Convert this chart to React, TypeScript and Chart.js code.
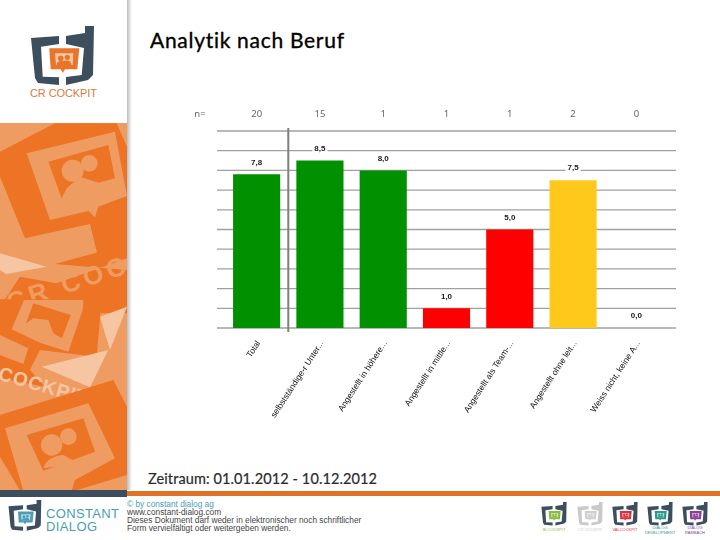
import React, { useEffect, useRef } from "react";
import { Chart, registerables } from "chart.js";

Chart.register(...registerables);

const categories = [
  "Total",
  "selbstständige-r Unter...",
  "Angestellt in höhere...",
  "Angestellt in mittle...",
  "Angestellt als Team-...",
  "Angestellt ohne leit...",
  "Weiss nicht, keine A...",
];
const scores = [7.8, 8.5, 8.0, 1.0, 5.0, 7.5, 0.0];
const respondents = [20, 15, 1, 1, 1, 2, 0];
const barColours = ["#009000", "#009000", "#009000", "#ff0000", "#ff0000", "#ffc91c", "#ffc91c"];

const DARK = "#3d4e5e";
const ORANGE = "#ec7424";
const LIGHT = "#ef9c62";
const PALE = "#f6c6a2";

const chartDecor = {
  id: "chartDecor",
  beforeDatasetsDraw(chart: any) {
    const { ctx, scales } = chart;
    const y = scales.y;
    ctx.save();
    ctx.strokeStyle = "#a0a0a0";
    ctx.lineWidth = 1.3;
    for (let v = 0; v <= 10; v++) {
      const py = y.getPixelForValue(v);
      ctx.beginPath();
      ctx.moveTo(217, py);
      ctx.lineTo(676, py);
      ctx.stroke();
    }
    ctx.restore();
  },
  afterDatasetsDraw(chart: any) {
    const { ctx, scales } = chart;
    const x = scales.x;
    const y = scales.y;
    ctx.save();
    const dx = (x.getPixelForValue(0) + x.getPixelForValue(1)) / 2;
    ctx.strokeStyle = "#7f7f7f";
    ctx.lineWidth = 2;
    ctx.beginPath();
    ctx.moveTo(dx, y.top - 3);
    ctx.lineTo(dx, y.bottom + 4);
    ctx.stroke();
    ctx.textAlign = "center";
    ctx.textBaseline = "middle";
    ctx.fillStyle = "#666666";
    ctx.font = "9.5px 'Noto Sans'";
    ctx.fillText("n=", 200, 114);
    respondents.forEach((n, i) => ctx.fillText(String(n), x.getPixelForValue(i), 114));
    ctx.font = "bold 8px 'Liberation Sans'";
    scores.forEach((v, i) => {
      const t = v.toFixed(1).replace(".", ",");
      const px = x.getPixelForValue(i);
      const py = y.getPixelForValue(v) - 12;
      const w = ctx.measureText(t).width;
      ctx.fillStyle = "#ffffff";
      ctx.fillRect(px - w / 2 - 2, py - 5, w + 4, 10);
      ctx.fillStyle = "#1a1a1a";
      ctx.fillText(t, px, py);
    });
    ctx.restore();
  },
};

function Logo({ x, y, s, accent, body = DARK }: { x: number; y: number; s: number; accent: string; body?: string }) {
  return (
    <g transform={`translate(${x},${y}) scale(${s})`}>
      <path fill={body} d="M1,12 L29,10 L29,18 L11,20.7 L12.7,50.7 L29,51.3 L29,59 L8,57 L5,52 Z" />
      <path fill={body} d="M36,10 L55,7 L55,0 L64,0 L63,49 L58,54 L36,59 L36,51 L51.7,49 L54,22 L36,18 Z" />
      <path fill={accent} d="M19.3,22.3 L49.3,22.3 L47.3,43.3 L35,43.3 L32.7,47 L30.7,43.3 L20.7,43.3 Z" />
      <path fill="#ffffff" fillOpacity={0.6} d="M25,27.3 L43.3,27.3 L42.7,39 L26,39 Z" />
      <circle cx={30.7} cy={32.3} r={2.8} fill={accent} />
      <circle cx={37.3} cy={31.3} r={2.6} fill={accent} />
      <path fill={accent} d="M26.5,39 Q27,35 31,35 Q34,34.5 38,34.5 Q41,35 41.5,39 Z" />
    </g>
  );
}

function Sidebar() {
  return (
    <svg width={720} height={540} style={{ position: "absolute", left: 0, top: 0 }}>
      <defs>
        <clipPath id="side">
          <rect x={0} y={123} width={127} height={367} />
        </clipPath>
        <linearGradient id="shade" x1="0" x2="1" y1="0" y2="0">
          <stop offset="0" stopColor="#bdbdbd" />
          <stop offset="1" stopColor="#ffffff" />
        </linearGradient>
      </defs>
      <rect x={127} y={0} width={5} height={490} fill="url(#shade)" />
      <g clipPath="url(#side)">
        <rect x={0} y={123} width={127} height={367} fill={LIGHT} />
        <g transform="translate(0,110) scale(0.3333)">
          <path fill={ORANGE} d="M0,125 L165,40 L350,40 L381,110 L381,400 L292,432 L270,342 L75,385 L0,200 Z" />
          <path fill={LIGHT} d="M80,130 L345,65 L381,258 L295,290 L285,322 L265,303 L150,330 Z" />
          <path fill={ORANGE} d="M145,155 L325,105 L345,205 L296,218 L240,200 L200,235 L185,265 Z" />
          <circle cx={218} cy={182} r={33} fill={LIGHT} />
          <circle cx={268} cy={160} r={25} fill={LIGHT} />
          <path fill={LIGHT} d="M195,262 Q205,212 255,212 L300,240 L205,262 Z" />
          <path fill={ORANGE} d="M295,300 L381,262 L381,300 L315,325 L340,408 L381,395 L381,445 L170,520 L60,500 L0,590 L0,610 L381,610 L381,480 L165,462 L300,425 Z" />
          <path fill={PALE} d="M0,430 L140,470 L18,492 L0,480 Z" />
          <text x={30} y={605} fontFamily="'Liberation Sans'" fontSize={78} fontWeight="bold" fill={LIGHT} transform="rotate(-18 30 605)" textLength={370}>CR COC</text>
        </g>
        <g transform="translate(0,300) scale(0.3333)">
          <path fill={ORANGE} d="M0,-2 L305,-2 L290,170 L200,160 L120,150 L90,210 L135,260 L0,235 Z" />
          <path fill={LIGHT} d="M35,88 L72,0 L250,0 L248,30 L205,155 L120,128 Z" />
          <path fill={ORANGE} d="M78,70 L100,10 L212,45 L186,115 L160,100 L145,60 L100,55 Z" />
          <path fill={LIGHT} d="M0,105 L85,145 L70,192 L0,165 Z" />
          <path fill={PALE} d="M381,20 L300,50 L330,150 Z" />
          <path fill={PALE} d="M125,200 L325,150 L270,262 Z" />
          <text x={-8} y={238} fontFamily="'Liberation Sans'" fontSize={58} fontWeight="bold" fill={PALE} transform="rotate(16 -8 238)" textLength={275}>COCKPIT</text>
          <path fill={ORANGE} d="M0,345 L340,240 L381,320 L381,525 L225,572 L60,572 L0,470 Z" />
          <path fill={LIGHT} d="M15,385 L265,310 L345,475 L225,540 L215,572 L70,572 Z" />
          <path fill={ORANGE} d="M80,405 L250,355 L285,455 L130,512 Z" />
          <circle cx={155} cy={435} r={32} fill={LIGHT} />
          <circle cx={205} cy={410} r={25} fill={LIGHT} />
          <path fill={LIGHT} d="M130,505 Q140,470 190,465 L235,490 Z" />
        </g>
      </g>
      <rect x={0} y={490} width={127} height={7} fill={DARK} />
      <rect x={127} y={491} width={593} height={5} fill="#e07227" />

      <Logo x={30} y={26} s={1} accent="#e8752a" />
      <text x={30} y={97} fontFamily="'Liberation Sans'" fontSize={11} fill="#dc7a3c" textLength={67}>CR COCKPIT</text>

      <text x={150} y={48} fontFamily="Lato" fontSize={21} fill="#000000" stroke="#000000" strokeWidth={0.35} textLength={194} style={{ fontVariantLigatures: "none" }}>Analytik nach Beruf</text>
      <text x={148} y={484} fontFamily="Lato" fontSize={14.5} fill="#2a2a2a" stroke="#2a2a2a" strokeWidth={0.2} textLength={229}>Zeitraum: 01.01.2012 - 10.12.2012</text>

      <Logo x={8} y={500} s={0.52} accent="#4a9db4" />
      <text x={46} y={518} fontFamily="'Liberation Sans'" fontSize={13} fill="#4a9db4" textLength={73}>CONSTANT</text>
      <text x={46} y={531} fontFamily="'Liberation Sans'" fontSize={13} fill="#4a9db4" textLength={51}>DIALOG</text>

      <g fontFamily="'Liberation Sans'" fontSize={8.3} fill="#444444">
        <text x={127} y={507} fill="#4a9db4">© by constant dialog ag</text>
        <text x={127} y={515}>www.constant-dialog.com</text>
        <text x={127} y={523}>Dieses Dokument darf weder in elektronischer noch schriftlicher</text>
        <text x={127} y={531}>Form vervielfältigt oder weitergeben werden.</text>
      </g>

      <Logo x={541} y={502} s={0.4} accent="#8aba3c" />
      <Logo x={577} y={502} s={0.4} accent="#cfcfcf" body="#c9c9c9" />
      <Logo x={612} y={502} s={0.4} accent="#d8303c" />
      <Logo x={647} y={502} s={0.4} accent="#2a9a8a" />
      <Logo x={682} y={502} s={0.4} accent="#8a3d9c" />
      <g fontFamily="'Liberation Sans'" fontSize={4} textAnchor="middle">
        <text x={554} y={531} fill="#8aba3c">BI COCKPIT</text>
        <text x={590} y={531} fill="#c9c9c9">CX COCKPIT</text>
        <text x={625} y={531} fill="#d8303c">VALCOCKPIT</text>
        <text x={660} y={529} fill="#2a9a8a">DIALOG</text>
        <text x={660} y={534} fill="#2a9a8a">DEVELOPMENT</text>
        <text x={695} y={529} fill="#8a3d9c">DIALOG</text>
        <text x={695} y={534} fill="#8a3d9c">RAMBACH</text>
      </g>
    </svg>
  );
}

export default function App() {
  const ref = useRef<HTMLCanvasElement | null>(null);
  useEffect(() => {
    if (!ref.current) return;
    const chart = new Chart(ref.current, {
      type: "bar",
      data: {
        labels: categories,
        datasets: [
          {
            data: scores,
            backgroundColor: barColours,
            borderWidth: 0,
            barPercentage: 0.745,
            categoryPercentage: 1,
          },
        ],
      },
      plugins: [chartDecor],
      options: {
        responsive: false,
        animation: false,
        layout: { padding: { left: 225, right: 52, top: 131, bottom: 0 } },
        plugins: { legend: { display: false }, tooltip: { enabled: false }, title: { display: false } },
        scales: {
          y: { display: false, min: 0, max: 10, ticks: { stepSize: 1 } },
          x: {
            grid: { display: false },
            border: { display: false },
            afterFit: (s: any) => {
              s.height = 212;
            },
            ticks: {
              autoSkip: false,
              minRotation: 57,
              maxRotation: 57,
              padding: 3,
              labelOffset: 2,
              color: "#111111",
              font: { family: "'Liberation Sans'", size: 8.5 },
            },
          },
        },
      },
    } as any);
    return () => chart.destroy();
  }, []);
  return (
    <div style={{ position: "fixed", left: 0, top: 0, width: 720, height: 540, background: "#ffffff", overflow: "hidden" }}>
      <Sidebar />
      <canvas ref={ref} width={720} height={540} style={{ position: "absolute", left: 0, top: 0, width: 720, height: 540 }} />
    </div>
  );
}
